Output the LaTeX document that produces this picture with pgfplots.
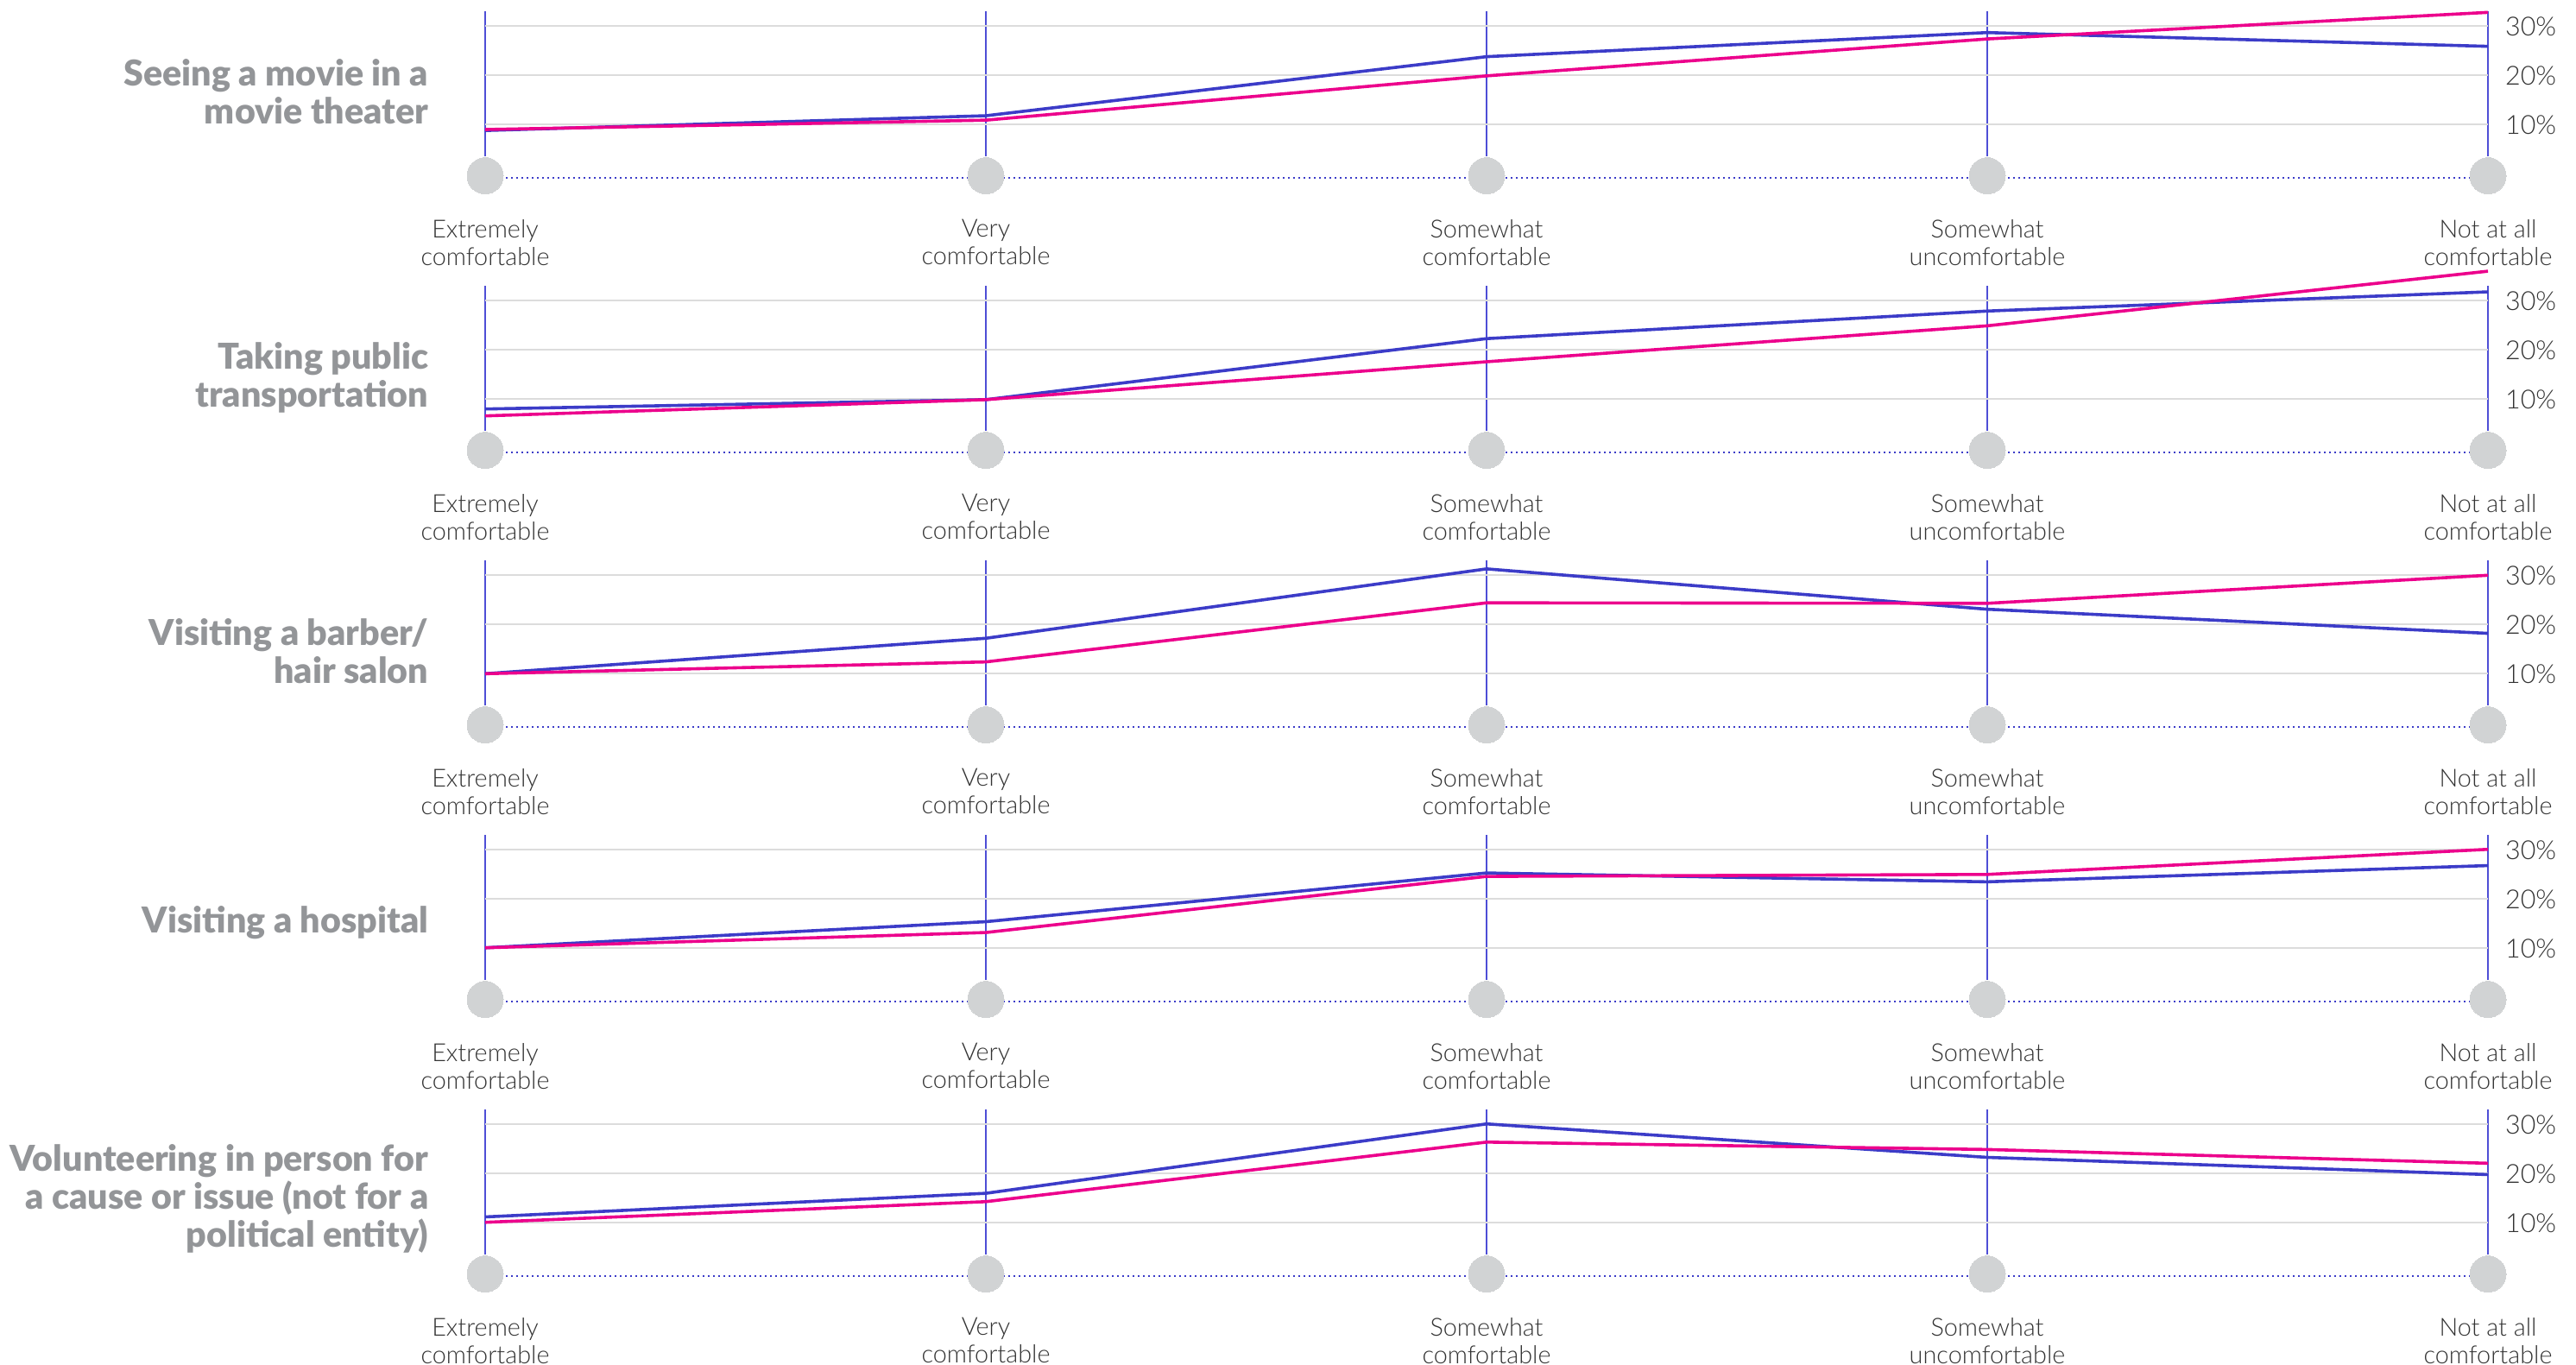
\documentclass[border=0pt]{standalone}
\usepackage{pgfplots}
\pgfplotsset{compat=1.18}
\usepackage{fontspec}
\setmainfont{Lato}
\IfFontExistsTF{Lato Black}{\newfontfamily\titlefont{Lato Black}}{\newcommand\titlefont{\bfseries}}
\IfFontExistsTF{Lato Light}{\newfontfamily\lightfont{Lato Light}}{\newcommand\lightfont{}}
\definecolor{serBlue}{HTML}{3C3CC8}
\definecolor{serPink}{HTML}{EC008C}
\definecolor{vgrid}{HTML}{4E4ED6}
\definecolor{hgrid}{HTML}{DCDCDC}
\definecolor{circ}{HTML}{D1D3D4}
\definecolor{titlegray}{HTML}{939598}
\definecolor{labelgray}{HTML}{333333}
\pgfplotsset{panel/.style={
  scale only axis, width=580pt, height=41.9pt,
  xmin=0, xmax=4, ymin=3.6, ymax=33,
  clip=false,
  axis line style={draw=none},
  major tick length=0pt,
  xtick={0,1,2,3,4},
  xticklabels={{Extremely\\comfortable},{Very\\comfortable},{Somewhat\\comfortable},{Somewhat\\uncomfortable},{Not at all\\comfortable}},
  xticklabel style={align=center, font=\lightfont\fontsize{7.2}{8.1}\selectfont, text=labelgray, yshift=-14.8pt},
  ytick={10,20,30}, yticklabels={10\%,20\%,30\%},
  yticklabel pos=right,
  yticklabel style={font=\lightfont\fontsize{7.6}{9}\selectfont, text=labelgray, xshift=1.5pt},
  xmajorgrids, ymajorgrids,
  x grid style={vgrid, line width=0.5pt},
  y grid style={hgrid, line width=0.55pt},
  anchor=south west,
},
blueline/.style={serBlue, line width=0.9pt},
pinkline/.style={serPink, line width=0.9pt},
dotline/.style={serBlue, line width=0.55pt, dash pattern=on 0.45pt off 1.05pt},
circles/.style={color=circ, only marks, mark=*, mark size=5.25pt, mark options={fill=circ, draw=circ, line width=0pt}},
}
\begin{document}
\begin{tikzpicture}
\path[use as bounding box] (0,0) rectangle (746pt,-395.25pt);
% Panel 1
\begin{axis}[panel, at={(140.5pt,-45.2pt)}]
\addplot[dotline] coordinates {(0,-0.8)(4,-0.8)};
\addplot[circles] coordinates {(0,-0.4)(1,-0.4)(2,-0.4)(3,-0.4)(4,-0.4)};
\addplot[blueline] coordinates {(0,8.8)(1,11.8)(2,23.8)(3,28.7)(4,25.9)};
\addplot[pinkline] coordinates {(0,9.0)(1,10.9)(2,19.9)(3,27.4)(4,32.8)};
\end{axis}
% Panel 2
\begin{axis}[panel, at={(140.5pt,-124.7pt)}]
\addplot[dotline] coordinates {(0,-0.8)(4,-0.8)};
\addplot[circles] coordinates {(0,-0.4)(1,-0.4)(2,-0.4)(3,-0.4)(4,-0.4)};
\addplot[blueline] coordinates {(0,8.0)(1,9.9)(2,22.3)(3,27.9)(4,31.8)};
\addplot[pinkline] coordinates {(0,6.6)(1,9.9)(2,17.6)(3,24.9)(4,36.0)};
\end{axis}
% Panel 3
\begin{axis}[panel, at={(140.5pt,-204.2pt)}]
\addplot[dotline] coordinates {(0,-0.8)(4,-0.8)};
\addplot[circles] coordinates {(0,-0.4)(1,-0.4)(2,-0.4)(3,-0.4)(4,-0.4)};
\addplot[blueline] coordinates {(0,10.0)(1,17.2)(2,31.3)(3,23.1)(4,18.2)};
\addplot[pinkline] coordinates {(0,10.0)(1,12.4)(2,24.4)(3,24.3)(4,30.0)};
\end{axis}
% Panel 4
\begin{axis}[panel, at={(140.5pt,-283.7pt)}]
\addplot[dotline] coordinates {(0,-0.8)(4,-0.8)};
\addplot[circles] coordinates {(0,-0.4)(1,-0.4)(2,-0.4)(3,-0.4)(4,-0.4)};
\addplot[blueline] coordinates {(0,10.1)(1,15.4)(2,25.3)(3,23.5)(4,26.8)};
\addplot[pinkline] coordinates {(0,10.1)(1,13.2)(2,24.6)(3,25.0)(4,30.1)};
\end{axis}
% Panel 5
\begin{axis}[panel, at={(140.5pt,-363.2pt)}]
\addplot[dotline] coordinates {(0,-0.8)(4,-0.8)};
\addplot[circles] coordinates {(0,-0.4)(1,-0.4)(2,-0.4)(3,-0.4)(4,-0.4)};
\addplot[blueline] coordinates {(0,11.2)(1,16.0)(2,30.1)(3,23.3)(4,19.8)};
\addplot[pinkline] coordinates {(0,10.1)(1,14.3)(2,26.4)(3,24.9)(4,22.1)};
\end{axis}
% Titles
\tikzset{ttl/.style={anchor=east, inner sep=0pt, align=right, font=\titlefont\fontsize{10.3}{11}\selectfont, text=titlegray}}
\node[ttl] at (124.25pt,-26.6pt) {Seeing a movie in a\\movie theater};
\node[ttl] at (124.25pt,-109.3pt) {Taking public\\transportation};
\node[ttl] at (124.25pt,-188.5pt) {Visiting a barber/\\hair salon};
\node[ttl] at (124.25pt,-267.1pt) {Visiting a hospital};
\node[ttl] at (124.25pt,-347.0pt) {Volunteering in person for\\a cause or issue (not for a\\political entity)};
\end{tikzpicture}
\end{document}
